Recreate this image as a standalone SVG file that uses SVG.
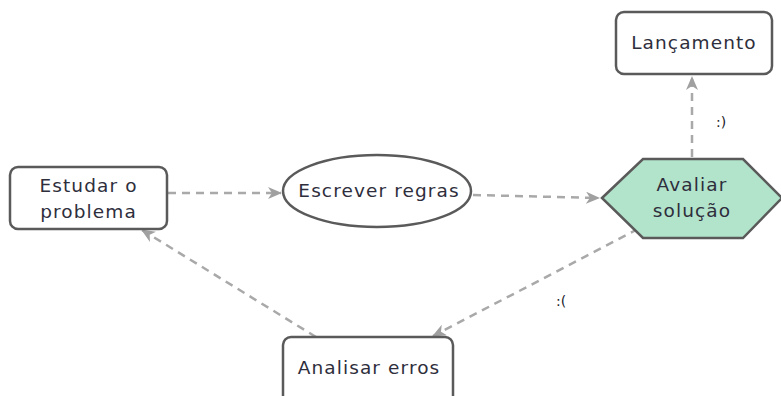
<svg xmlns="http://www.w3.org/2000/svg" width="781" height="396" viewBox="0 0 781 396">
  <style>
    .box { fill: #ffffff; stroke: #5a5a5a; stroke-width: 2.5; }
    .decision { fill: #b2e3cb; stroke: #5a5a5a; stroke-width: 2.5; }
    .label { font-family: "DejaVu Sans", "Open Sans", sans-serif; font-size: 18.5px; letter-spacing: 1.1px; fill: #2e2e3c; text-anchor: middle; }
    .edge { fill: none; stroke: #a9a9a9; stroke-width: 2.5; stroke-dasharray: 8 6; }
    .edge-label { font-family: "DejaVu Sans", "Open Sans", sans-serif; font-size: 14px; fill: #1a1a2a; }
  </style>
  <defs>
    <marker id="arrow" viewBox="0 0 14 12" refX="13" refY="6" markerWidth="14" markerHeight="12" markerUnits="userSpaceOnUse" orient="auto">
      <path d="M0,0 L14,6 L0,12 L4,6 Z" fill="#a0a0a0"/>
    </marker>
  </defs>
  <rect width="781" height="396" fill="#ffffff"/>

  <g id="connectors">
    <line class="edge" x1="168" y1="193" x2="281" y2="193" marker-end="url(#arrow)"/>
    <line class="edge" x1="473" y1="195" x2="599" y2="198" marker-end="url(#arrow)"/>
    <line class="edge" x1="692" y1="157" x2="692" y2="77" marker-end="url(#arrow)"/>
    <line class="edge" x1="638" y1="229" x2="433" y2="336" marker-end="url(#arrow)"/>
    <line class="edge" x1="316" y1="337" x2="142" y2="230" marker-end="url(#arrow)"/>
    <text class="edge-label" x="716" y="127">:)</text>
    <text class="edge-label" x="556" y="306">:(</text>
  </g>

  <g id="estudar">
    <rect class="box" x="10" y="167" width="157" height="62" rx="8"/>
    <text class="label" x="88.5" y="192">Estudar o</text>
    <text class="label" x="88.5" y="218">problema</text>
  </g>

  <g id="escrever">
    <ellipse class="box" cx="377" cy="191" rx="94" ry="36"/>
    <text class="label" x="379" y="197">Escrever regras</text>
  </g>

  <g id="avaliar">
    <polygon class="decision" points="602,198 643,159 743,159 782,198 743,238 643,238"/>
    <text class="label" x="692" y="191">Avaliar</text>
    <text class="label" x="692" y="217">solução</text>
  </g>

  <g id="lancamento">
    <rect class="box" x="616" y="12" width="156" height="62" rx="8"/>
    <text class="label" x="694" y="49">Lançamento</text>
  </g>

  <g id="analisar">
    <rect class="box" x="283" y="337" width="170" height="70" rx="8"/>
    <text class="label" x="369" y="374">Analisar erros</text>
  </g>
</svg>
